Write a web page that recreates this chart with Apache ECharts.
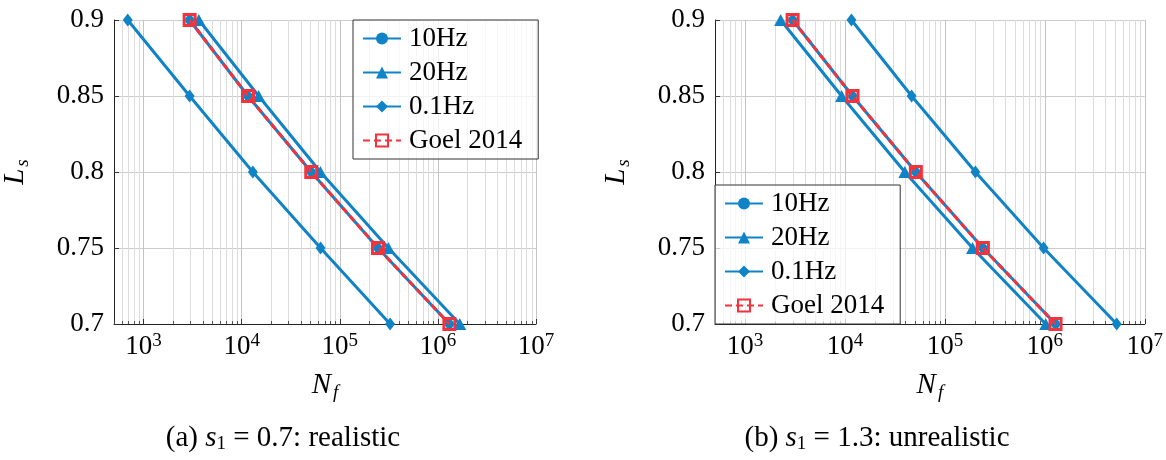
<!DOCTYPE html>
<html>
<head>
<meta charset="utf-8">
<script src="https://cdn.jsdelivr.net/npm/echarts@6/dist/echarts.min.js"></script>
<style>html,body{margin:0;padding:0;background:#fff}#c{width:1166px;height:460px}</style>
</head>
<body>
<div id="c"></div>
<script>
// ---- data ----
const levels = [0.9, 0.85, 0.8, 0.75, 0.7];
// (a) s1 = 0.7 : realistic
const a_10Hz  = [2950, 11600, 51200, 245000, 1310000];
const a_20Hz  = [3660, 14900, 63500, 313000, 1670000];
const a_01Hz  = [690, 2950, 13000, 63700, 326000];
const a_Goel  = [2950, 11600, 51200, 245000, 1310000];
// (b) s1 = 1.3 : unrealistic
const b_10Hz  = [2990, 11900, 51200, 240000, 1280000];
const b_20Hz  = [2270, 9250, 39700, 189000, 1020000];
const b_01Hz  = [11600, 46400, 202000, 972000, 5240000];
const b_Goel  = [2990, 11900, 51200, 240000, 1280000];

const xRange = [500, 1e7];
const yTicks = [0.7, 0.75, 0.8, 0.85, 0.9];
const decades = [100, 1000, 10000, 100000, 1000000];
const minorMult = [2, 3, 4, 5, 6, 7, 8, 9];
const seriesNames = ['10Hz', '20Hz', '0.1Hz', 'Goel 2014'];
const captions = ['(a) {i|s}{sub|1} = 0.7: realistic', '(b) {i|s}{sub|1} = 1.3: unrealistic'];

// ---- style ----
const BLUE = '#1083c7';
const RED = '#f2333d';
const FONT = 'Liberation Serif';
const FS = 27;

const minorXs = [];
decades.forEach(d => minorMult.forEach(m => { const v = d * m; if (v > xRange[0] && v < xRange[1]) minorXs.push(v); }));

function zip(xs) { return xs.map((x, i) => [x, levels[i]]); }

function supLabel(v) {
  const l = Math.log10(v), e = Math.round(l);
  if (Math.abs(l - e) > 1e-6) return '';
  return '{b|10}{s|' + e + '}';
}

const grids = [
  { left: 110, top: 20, width: 426, height: 304 },
  { left: 715, top: 20, width: 430, height: 304 }
];

const xAxes = [], yAxes = [], series = [];
const sets = [[a_10Hz, a_20Hz, a_01Hz, a_Goel], [b_10Hz, b_20Hz, b_01Hz, b_Goel]];

[0, 1].forEach(g => {
  xAxes.push({
    type: 'log', gridIndex: g, min: xRange[0], max: xRange[1], logBase: 10,
    name: '{i|N}{sub|f}', nameLocation: 'middle', nameGap: 45,
    nameTextStyle: { fontFamily: FONT, rich: {
      i: { fontFamily: FONT, fontStyle: 'italic', fontSize: 29, color: '#000' },
      sub: { fontFamily: FONT, fontStyle: 'italic', fontSize: 19, color: '#000', verticalAlign: 'bottom', padding: [14, 0, 0, 2] } } },
    axisLine: { show: true, onZero: false, lineStyle: { color: '#222', width: 1 } },
    axisTick: { show: true, inside: true, length: 5, lineStyle: { color: '#333' } },
    minorTick: { show: false },
    splitLine: { show: true, lineStyle: { color: '#c4c4c4', width: 1 } },
    axisLabel: {
      margin: 8, formatter: supLabel, hideOverlap: false, showMinLabel: true, showMaxLabel: true,
      rich: {
        b: { fontFamily: FONT, fontSize: FS, color: '#000', lineHeight: 30 },
        s: { fontFamily: FONT, fontSize: 19, color: '#000', verticalAlign: 'top', lineHeight: 19 }
      }
    }
  });
  yAxes.push({
    type: 'value', gridIndex: g, min: yTicks[0], max: yTicks[yTicks.length - 1], interval: 0.05,
    name: '{i|L}{sub|s}', nameLocation: 'middle', nameGap: 82, nameRotate: 90,
    nameTextStyle: { fontFamily: FONT, rich: {
      i: { fontFamily: FONT, fontStyle: 'italic', fontSize: 29, color: '#000' },
      sub: { fontFamily: FONT, fontStyle: 'italic', fontSize: 19, color: '#000', verticalAlign: 'bottom', padding: [14, 0, 0, 2] } } },
    axisLine: { show: true, onZero: false, lineStyle: { color: '#222', width: 1 } },
    axisTick: { show: true, inside: true, length: 5, lineStyle: { color: '#333' } },
    splitLine: { show: true, lineStyle: { color: '#cccccc', width: 1 } },
    axisLabel: { margin: 10, fontFamily: FONT, fontSize: FS, color: '#000',
      formatter: v => String(+v.toFixed(2)) }
  });

  // minor vertical grid lines + minor ticks
  series.push({
    type: 'custom', xAxisIndex: g, yAxisIndex: g, silent: true, z: 1,
    data: minorXs.map(v => [v, yTicks[0]]), encode: { x: 0, y: 1 },
    renderItem: (params, api) => {
      const x = api.value(0);
      const b = api.coord([x, yTicks[0]]);
      const t = api.coord([x, yTicks[yTicks.length - 1]]);
      const px = Math.round(b[0]) + 0.5;
      return { type: 'group', children: [
        { type: 'line', shape: { x1: px, y1: t[1], x2: px, y2: b[1] }, style: { stroke: '#dcdcdc', lineWidth: 1 } },
        { type: 'line', shape: { x1: px, y1: b[1], x2: px, y2: b[1] - 3 }, style: { stroke: '#555', lineWidth: 1 } }
      ] };
    }
  });

  const [s10, s20, s01, sG] = sets[g];
  const common = { type: 'line', xAxisIndex: g, yAxisIndex: g, z: 3, lineStyle: { color: BLUE, width: 3 }, itemStyle: { color: BLUE }, showSymbol: true, animation: false };
  series.push(Object.assign({}, common, { name: seriesNames[0], data: zip(s10), symbol: 'circle', symbolSize: 9 }));
  series.push(Object.assign({}, common, { name: seriesNames[1], data: zip(s20), symbol: 'triangle', symbolSize: [13, 12] }));
  series.push(Object.assign({}, common, { name: seriesNames[2], data: zip(s01), symbol: 'diamond', symbolSize: [10, 13] }));
  series.push({
    type: 'line', name: seriesNames[3], xAxisIndex: g, yAxisIndex: g, z: 4, data: zip(sG),
    symbol: 'rect', symbolSize: 11,
    lineStyle: { color: RED, width: 3, type: [7, 4] },
    itemStyle: { color: 'rgba(255,255,255,0)', borderColor: RED, borderWidth: 3 },
    animation: false
  });
});

const legendBase = {
  orient: 'vertical', data: seriesNames,
  itemWidth: 38, itemHeight: 15, itemGap: 7,
  backgroundColor: 'rgba(255,255,255,0.75)', borderColor: '#333', borderWidth: 1, borderRadius: 0,
  textStyle: { fontFamily: FONT, fontSize: FS, color: '#000', padding: [0, 0, 0, 3] },
  selectedMode: false
};

const option = {
  animation: false,
  backgroundColor: '#fff',
  grid: grids,
  xAxis: xAxes,
  yAxis: yAxes,
  series: series,
  legend: [
    Object.assign({}, legendBase, { left: 353, top: 20, padding: [5, 16, 5, 9] }),
    Object.assign({}, legendBase, { left: 715, bottom: 136, padding: [5, 16, 5, 9] })
  ],
  graphic: captions.map((c, i) => ({
    type: 'text', x: [283, 877][i], y: 438,
    style: {
      text: c, align: 'center', verticalAlign: 'middle',
      fontFamily: FONT, fontSize: 29, fill: '#000',
      rich: {
        i: { fontFamily: FONT, fontStyle: 'italic', fontSize: 29, fill: '#000' },
        sub: { fontFamily: FONT, fontSize: 19, fill: '#000', verticalAlign: 'bottom', padding: [12, 0, 0, 0] }
      }
    }
  }))
};

const chart = echarts.init(document.getElementById('c'), null, { renderer: 'canvas' });
chart.setOption(option);
</script>
</body>
</html>
